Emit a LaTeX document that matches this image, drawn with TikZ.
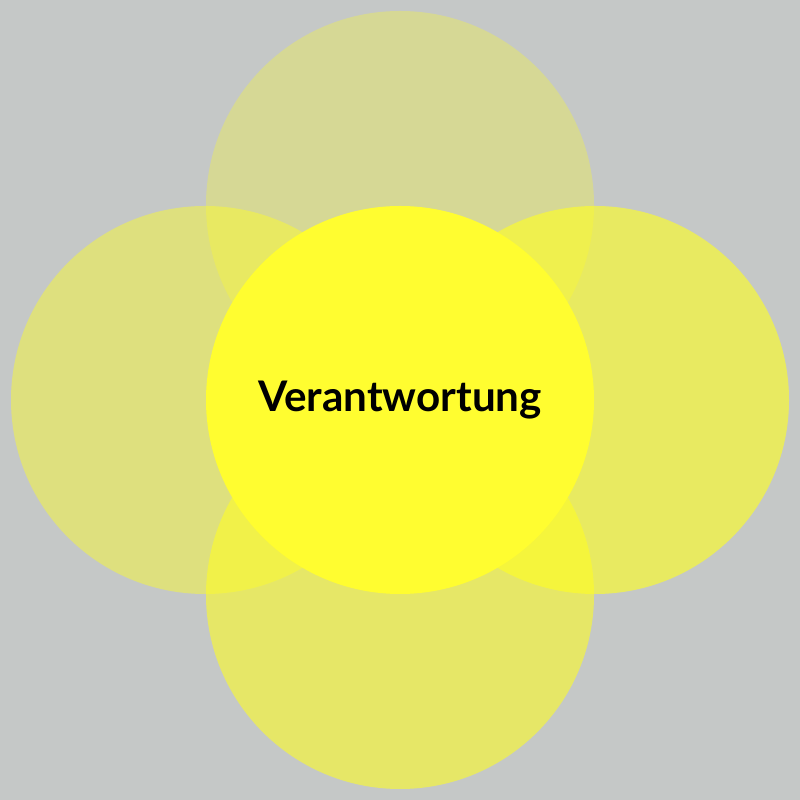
\documentclass[tikz,border=0pt]{standalone}
\usepackage{fontspec}
\setmainfont{Lato}
\definecolor{bg}{RGB}{197,200,199}
\definecolor{petal}{RGB}{255,255,35}
\definecolor{core}{RGB}{255,253,48}
\tikzset{petal/.style={shape=circle,minimum size=3.88cm,inner sep=0pt,fill=petal}}

\begin{document}
\begin{tikzpicture}
      \fill[bg] (0,0) rectangle (8,8);
      \node[petal,fill opacity=0.3] (top) at (4,5.95) {};
      \node[petal,fill opacity=0.44] (left) at (2.05,4) {};
      \node[petal,fill opacity=0.58] (bottom) at (4,2.05) {};
      \node[petal,fill opacity=0.62] (right) at (5.95,4) {};
      \node[petal,fill=core,font=\bfseries\fontsize{12}{14}\selectfont] (center) at (4,4) {Verantwortung};
\end{tikzpicture}
\end{document}
